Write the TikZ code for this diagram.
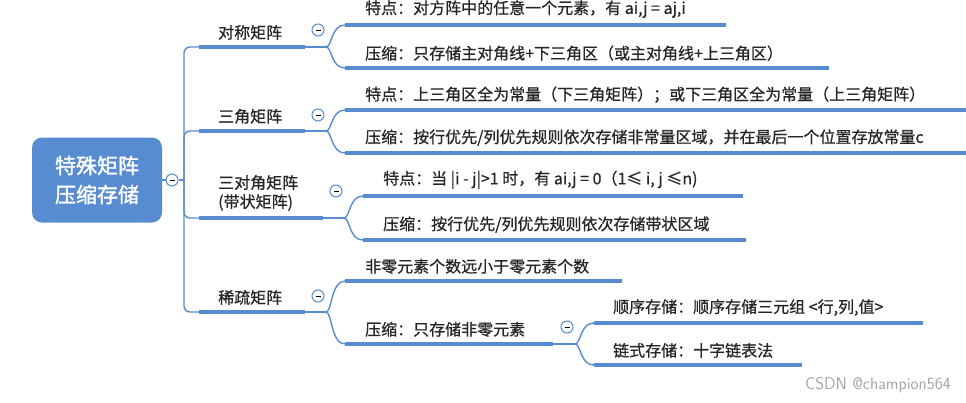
\documentclass[tikz,border=0pt]{standalone}
\usepackage{fontspec}
\setmainfont{Noto Sans CJK SC}[FakeBold=0.6]
\newfontfamily\rootfont{Noto Sans CJK SC}[FakeBold=1.5]
\begin{document}
\begin{tikzpicture}[x=1pt,y=-1pt,
  c/.style={draw=lb,line width=1.4pt},
  ul/.style={draw=lb,line width=3.2pt},
  t/.style={anchor=south west,inner sep=0pt,font=\fontsize{16}{18}\selectfont,text=black!85},
  mn/.style={circle,draw=lb,fill=white,line width=1pt,minimum size=12pt,inner sep=0pt}]
\definecolor{lb}{RGB}{88,140,208}
\useasboundingbox (0,0) rectangle (966,402);
\fill[white] (0,0) rectangle (966,402);
% root
\node[fill=lb,rounded corners=10pt,minimum width=130pt,minimum height=85pt,align=center,text=white,font=\fontsize{21}{29}\selectfont\rootfont] (root) at (97,180) {特殊矩阵\\压缩存储};
\node[mn] (m0) at (172,180) {\rule{5pt}{0.8pt}};
\coordinate (tr) at (184,180);
\draw[c] (root.east) -- (m0.west);
\draw[c] (m0.east) -- (tr);
\foreach \y in {47,131,218,312} \draw[c,rounded corners=6pt] (tr) -- (184,\y) -- (199,\y);
% level 1
\node[t] (a) at (218,40) {对称矩阵};
\node[t] (b) at (218,124) {三角矩阵};
\node[t,align=left,anchor=south west,font=\fontsize{16}{19}\selectfont] (c) at (218,211) {三对角矩阵\\(带状矩阵)};
\node[t] (d) at (218,305) {稀疏矩阵};
\draw[ul] (199,47) -- (305,47); \draw[c] (305,47) -- (326,47);
\draw[ul] (199,131) -- (305,131); \draw[c] (305,131) -- (326,131);
\draw[ul] (199,218) -- (323,218); \draw[c] (323,218) -- (344,218);
\draw[ul] (199,312) -- (305,312); \draw[c] (305,312) -- (326,312);
\node[mn] at (318,30) {\rule{5pt}{0.8pt}};
\node[mn] at (318,115) {\rule{5pt}{0.8pt}};
\node[mn] at (336,191) {\rule{5pt}{0.8pt}};
\node[mn] at (318,296) {\rule{5pt}{0.8pt}};
% brackets
\foreach \m/\u/\l/\x in {47/25/68/326, 131/110/153/326, 218/196/240/344, 312/281/344/326}{
  \draw[c] (\x,\m) .. controls (\x+6,\m) and (\x+5,\u) .. (\x+19,\u);
  \draw[c] (\x,\m) .. controls (\x+6,\m) and (\x+5,\l) .. (\x+19,\l);}
% level 2
\draw[ul] (345,25) -- (726,25);
\node[t] (a1) at (365,18) {特点：对方阵中的任意一个元素，有 ai,j = aj,i};
\draw[ul] (345,68) -- (829,68);
\node[t] (a2) at (365,61) {压缩：只存储主对角线+下三角区（或主对角线+上三角区）};
\draw[ul] (345,110) -- (966,110);
\node[t] (b1) at (365,103) {特点：上三角区全为常量（下三角矩阵）；或下三角区全为常量（上三角矩阵）};
\draw[ul] (345,153) -- (966,153);
\node[t] (b2) at (365,146) {压缩：按行优先/列优先规则依次存储非常量区域，并在最后一个位置存放常量c};
\draw[ul] (363,196) -- (743,196);
\node[t] (c1) at (383,189) {特点：当 |i - j|>1 时，有 ai,j = 0（1≤ i, j ≤n)};
\draw[ul] (363,240) -- (746,240);
\node[t] (c2) at (383,233) {压缩：按行优先/列优先规则依次存储带状区域};
\draw[ul] (345,281) -- (622,281);
\node[t] (d1) at (365,274) {非零元素个数远小于零元素个数};
\draw[ul] (345,344) -- (553,344);
\node[t] (d2) at (365,337) {压缩：只存储非零元素};
\node[mn] at (567,327) {\rule{5pt}{0.8pt}};
\draw[c] (553,344) -- (575,344);
\draw[c] (575,344) .. controls (581,344) and (580,323) .. (594,323);
\draw[c] (575,344) .. controls (581,344) and (580,365) .. (594,365);
\draw[ul] (594,323) -- (923,323);
\node[t] (e1) at (613,316) {顺序存储：顺序存储三元组 <行,列,值>};
\draw[ul] (594,365) -- (802,365);
\node[t] (e2) at (613,358) {链式存储：十字链表法};
\node[anchor=east,inner sep=0pt,text=black!35,font=\fontsize{17}{19}\selectfont\sffamily] (w) at (951,385) {CSDN @champion564};
\end{tikzpicture}
\end{document}
